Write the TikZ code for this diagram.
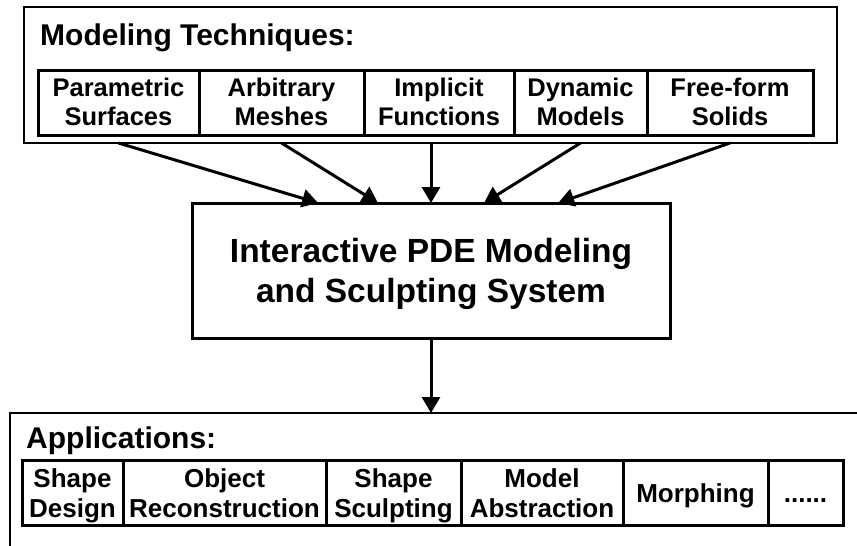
\documentclass[tikz,border=0pt]{standalone}
\usepackage{fontspec}
\setmainfont{Liberation Sans}
\usetikzlibrary{arrows.meta,calc}
% vertical struts that set where the lines of a cell sit
\newcommand\tcHi{\rule{0pt}{22pt}}
\newcommand\tcLo{\rule[-6pt]{0pt}{6pt}}
\newcommand\acHi{\rule{0pt}{25pt}}
\newcommand\acLo{\rule[-6pt]{0pt}{6pt}}
\newcommand\acOne{\rule[-6pt]{0pt}{31pt}}
\newcommand\pdHi{\rule{0pt}{31pt}}
\newcommand\pdLo{\rule[-7pt]{0pt}{7pt}}
\begin{document}
\begin{tikzpicture}[x=1pt,y=-1pt,
  frame/.style={draw, line width=2pt, inner sep=0pt, outer sep=0pt},
  heading/.style={anchor=base west, inner sep=0pt, font=\bfseries\fontsize{30}{34}\selectfont},
  topcell/.style={draw, line width=3pt, inner sep=0pt, outer sep=0pt, minimum height=65pt,
    align=center, font=\bfseries\fontsize{25.5}{29}\selectfont},
  appcell/.style={draw, line width=3pt, inner sep=0pt, outer sep=0pt, minimum height=65pt,
    align=center, font=\bfseries\fontsize{26}{30}\selectfont},
  core/.style={draw, line width=3pt, inner sep=0pt, outer sep=0pt, align=center,
    font=\bfseries\fontsize{33.5}{40}\selectfont},
  feed/.style={line width=3pt, -{Triangle[length=16pt,width=18pt]}},
]
\clip (0,0) rectangle (857,546);
\fill[white] (0,0) rectangle (857,546);

% modeling techniques
\node[frame, minimum width=813pt, minimum height=136pt] (tech) at (430.5,75) {};
\node[heading] (techtitle) at (40,45) {Modeling Techniques:};
\node[topcell, minimum width=161pt] (t1) at (118.5,102.5) {\tcHi Parametric\\Surfaces\tcLo};
\node[topcell, minimum width=165pt] (t2) at (281.5,102.5) {\tcHi Arbitrary\\Meshes\tcLo};
\node[topcell, minimum width=150pt] (t3) at (439,102.5) {\tcHi Implicit\\Functions\tcLo};
\node[topcell, minimum width=133pt] (t4) at (580.5,102.5) {\tcHi Dynamic\\Models\tcLo};
\node[topcell, minimum width=166pt] (t5) at (730,102.5) {\tcHi Free-form\\Solids\tcLo};

% central system
\node[core, minimum width=478pt, minimum height=135pt] (pde) at (431,270.5)
  {\pdHi Interactive PDE Modeling\\and Sculpting System\pdLo};

% applications (box runs past the right and lower edges)
\node[frame, minimum width=870pt, minimum height=157pt] (apps) at (445,491.5) {};
\node[heading] (appstitle) at (26,448) {Applications:};
\node[appcell, minimum width=101pt] (a1) at (72.5,492.5) {\acHi Shape\\Design\acLo};
\node[appcell, minimum width=203pt] (a2) at (224.5,492.5) {\acHi Object\\Reconstruction\acLo};
\node[appcell, minimum width=135pt] (a3) at (393.5,492.5) {\acHi Shape\\Sculpting\acLo};
\node[appcell, minimum width=162pt] (a4) at (542,492.5) {\acHi Model\\Abstraction\acLo};
\node[appcell, minimum width=145pt] (a5) at (695.5,492.5) {\acOne Morphing};
\node[appcell, minimum width=75pt] (a6) at (805.5,492.5) {\acOne ......};

% connectors
\draw[feed] (t1.south |- tech.south) -- ($(pde.north west)!0.264!(pde.north east)$);
\draw[feed] (t2.south |- tech.south) -- ($(pde.north west)!0.389!(pde.north east)$);
\draw[feed] (pde.north |- tech.south) -- (pde.north);
\draw[feed] (t4.south |- tech.south) -- ($(pde.north west)!0.611!(pde.north east)$);
\draw[feed] (t5.south |- tech.south) -- ($(pde.north west)!0.766!(pde.north east)$);
\draw[feed] (pde.south) -- (pde.south |- apps.north);
\end{tikzpicture}
\end{document}
